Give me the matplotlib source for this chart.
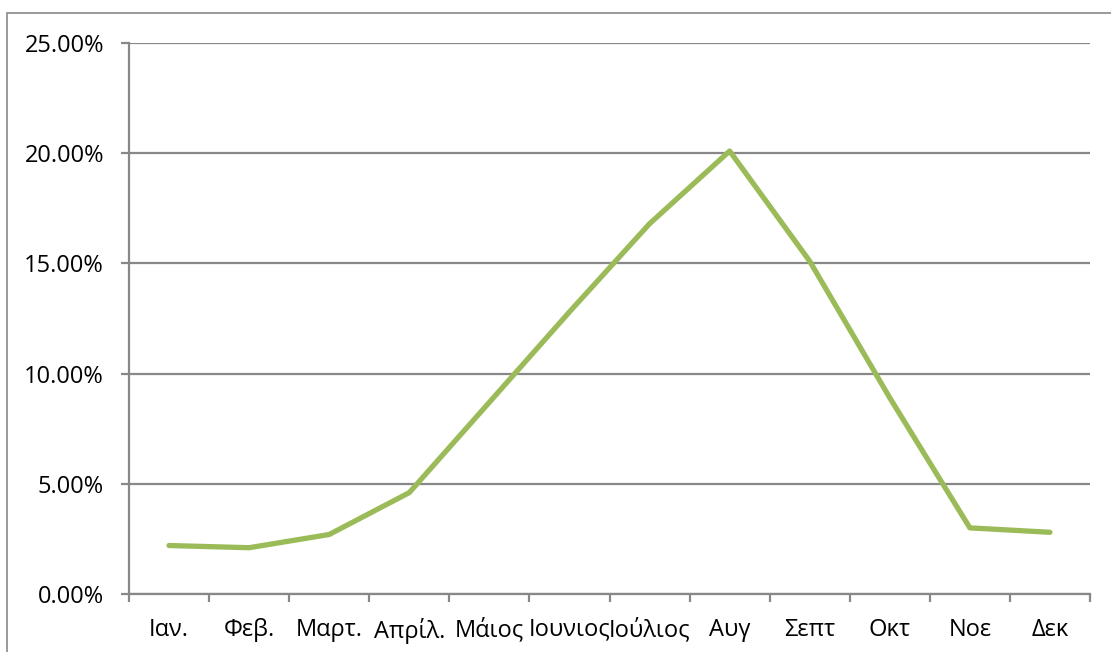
import matplotlib
matplotlib.use("Agg")
import matplotlib.pyplot as plt
from matplotlib.patches import Rectangle
import numpy as np

# Monthly share (%)
months = ["Ιαν.", "Φεβ.", "Μαρτ.", "Απρίλ.", "Μάιος", "Ιουνιος",
          "Ιούλιος", "Αυγ", "Σεπτ", "Οκτ", "Νοε", "Δεκ"]
share = [2.2, 2.1, 2.7, 4.6, 8.7, 12.8, 16.8, 20.1, 15.1, 8.9, 3.0, 2.8]
y_ticks = [0, 5, 10, 15, 20, 25]

plt.rcParams['font.family'] = ['Open Sans', 'DejaVu Sans']

W, H = 1111, 652
fig = plt.figure(figsize=(W / 100, H / 100), dpi=100)
fig.patch.set_facecolor('white')

# chart-area frame
fig.patches.append(Rectangle((7 / W, -0.1), 1.2, (H - 13) / H + 0.1,
                             transform=fig.transFigure, fill=False,
                             edgecolor='#9a9a9a', linewidth=1.4))

L, R, T, B = 129, 1090, 43, 594
ax = fig.add_axes([L / W, (H - B) / H, (R - L) / W, (B - T) / H])

x = np.arange(len(months)) + 0.5
ax.plot(x, share, color='#9BBB59', linewidth=3.8,
        solid_capstyle='round', solid_joinstyle='round', zorder=3)

ax.set_xlim(0, len(months))
ax.set_ylim(0, 25)

ax.set_yticks(y_ticks)
ax.set_yticklabels([f"{v:.2f}%" for v in y_ticks])
ax.yaxis.grid(True, color='#888888', linewidth=1.6)
ax.set_axisbelow(True)

ax.set_xticks(np.arange(len(months) + 1))
ax.set_xticklabels([])
ax.set_xticks(x, minor=True)
ax.set_xticklabels(months, minor=True)

for s in ['top', 'right']:
    ax.spines[s].set_visible(False)
for s in ['left', 'bottom']:
    ax.spines[s].set_color('#888888')
    ax.spines[s].set_linewidth(1.6)

ax.tick_params(axis='y', which='major', length=6, width=1.6, color='#888888',
               pad=12, labelsize=17, labelcolor='black')
ax.tick_params(axis='x', which='major', length=6, width=1.6, color='#888888')
ax.tick_params(axis='x', which='minor', length=0, pad=17,
               labelsize=17, labelcolor='black')

fig.savefig("out.png", dpi=100, facecolor='white')
